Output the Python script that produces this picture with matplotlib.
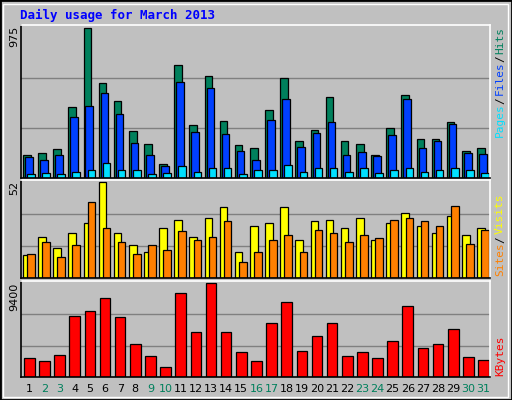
import matplotlib
matplotlib.use('Agg')
import matplotlib.pyplot as plt
import numpy as np

days = list(range(1, 32))
weekend = [2, 3, 9, 10, 16, 17, 23, 24, 30, 31]

hits = [148, 161, 188, 459, 975, 618, 499, 307, 221, 88, 737, 346, 664, 373, 214, 194,
        439, 651, 240, 313, 525, 240, 221, 148, 326, 538, 254, 254, 366, 174, 194]
files = [135, 115, 148, 399, 465, 551, 413, 227, 148, 75, 624, 300, 585, 287, 174, 115,
         379, 512, 201, 293, 366, 148, 168, 141, 280, 512, 194, 240, 353, 161, 154]
pages = [29, 35, 29, 42, 55, 95, 49, 49, 29, 35, 75, 42, 68, 62, 29, 55,
         49, 82, 42, 68, 62, 42, 68, 35, 55, 68, 42, 49, 62, 49, 35]
visits = [12.6, 22.1, 16.5, 24.4, 29.5, 52, 24.4, 17.6, 14.3, 27.2, 31.2, 22.1, 32.3, 38.5, 14.3, 28.3,
          29.5, 38.5, 20.5, 30.6, 31.2, 27.2, 32.3, 20.5, 29.5, 35.1, 28.3, 24.4, 33.4, 23.3, 27.2]
sites = [13.1, 19.3, 11.5, 17.6, 41.3, 27.2, 19.3, 13.1, 17.6, 15.4, 25.5, 20.5, 22.1, 30.6, 8.6, 14.3,
         20.5, 23.3, 14.3, 26.1, 24.4, 19.3, 23.3, 21.6, 31.2, 32.3, 30.6, 28.3, 39, 18.2, 26.1]
kbytes = [1887, 1578, 2195, 6105, 6620, 7855, 6003, 3327, 2092, 960, 8369, 4459, 9400, 4459, 2504, 1578,
          5385, 7443, 2607, 4047, 5385, 2092, 2504, 1887, 3636, 7134, 2916, 3327, 4768, 1989, 1681]

BG = '#C0C0C0'
fig = plt.figure(figsize=(5.12, 4.0), dpi=100, facecolor=BG)
W, H = 512, 400

# outer frame
fig.patches.append(plt.Rectangle((0, 0), 1, 1, transform=fig.transFigure,
                                 fill=False, edgecolor='black', linewidth=2))
fig.patches.append(plt.Rectangle((3/W, 3/H), 1-7/W, 1-7/H, transform=fig.transFigure,
                                 fill=False, edgecolor='white', linewidth=1))

def panel(top, bottom, ymax):
    ax = fig.add_axes([20.7/W, 1-bottom/H, (490-20.7)/W, (bottom-top)/H])
    ax.set_facecolor(BG)
    ax.set_xlim(0.55, 31.55)
    ax.set_ylim(0, ymax * 1.02)
    ax.set_xticks([])
    ax.set_yticks([])
    for s in ['left', 'bottom']:
        ax.spines[s].set_color('black')
    for s in ['top', 'right']:
        ax.spines[s].set_color('white')
    for sp in ax.spines.values():
        sp.set_linewidth(1.2)
    for f in (1/3, 2/3):
        ax.axhline(ymax * f, color='#808080', linewidth=1, zorder=0)
    return ax

x = np.array(days)
kw = dict(edgecolor='black', linewidth=0.9, align='edge')

ax1 = panel(25, 178, 975)
ax1.bar(x - 0.3, hits, 0.5, color='#00805C', **kw)
ax1.bar(x - 0.17, files, 0.5, color='#0040FF', **kw)
ax1.bar(x - 0.03, pages, 0.5, color='#00E0FF', **kw)

ax2 = panel(180, 278, 52)
ax2.bar(x - 0.3, visits, 0.5, color='#FFFF00', **kw)
ax2.bar(x - 0.03, sites, 0.5, color='#FF8000', **kw)

ax3 = panel(281, 377, 9400)
ax3.bar(x - 0.23, kbytes, 0.7, color='#FF0000', **kw)

# day labels
for d in days:
    ax3.text(d + 0.12, -0.13, str(d), transform=ax3.get_xaxis_transform(),
             ha='center', va='center', fontsize=8,
             color='#00805C' if d in weekend else 'black')

# y max labels
for txt, top in [('975', 26), ('52', 181), ('9400', 283)]:
    fig.text(14/W, 1-top/H, txt, rotation=90, ha='center', va='top', fontsize=8)

# right side legends
def rlabel(parts, bottom):
    y = bottom
    for t, c in parts:
        tt = fig.text(500/W, 1-y/H, t, rotation=90, ha='center', va='bottom',
                      fontsize=8, color=c, family='DejaVu Sans Mono')
        y -= (len(t) + 0.3) * 6.3

rlabel([('Pages', '#00E0FF'), ('/', 'black'), ('Files', '#0040FF'),
        ('/', 'black'), ('Hits', '#00805C')], 137)
rlabel([('Sites', '#FF8000'), ('/', 'black'), ('Visits', '#FFFF00')], 276)
rlabel([('KBytes', '#FF0000')], 376)

fig.text(20/W, 1-15/H, 'Daily usage for March 2013', ha='left', va='center',
         fontsize=9, fontweight='bold', color='#0000FF', family='DejaVu Sans Mono')

fig.savefig('out.png', dpi=100, facecolor=BG)
